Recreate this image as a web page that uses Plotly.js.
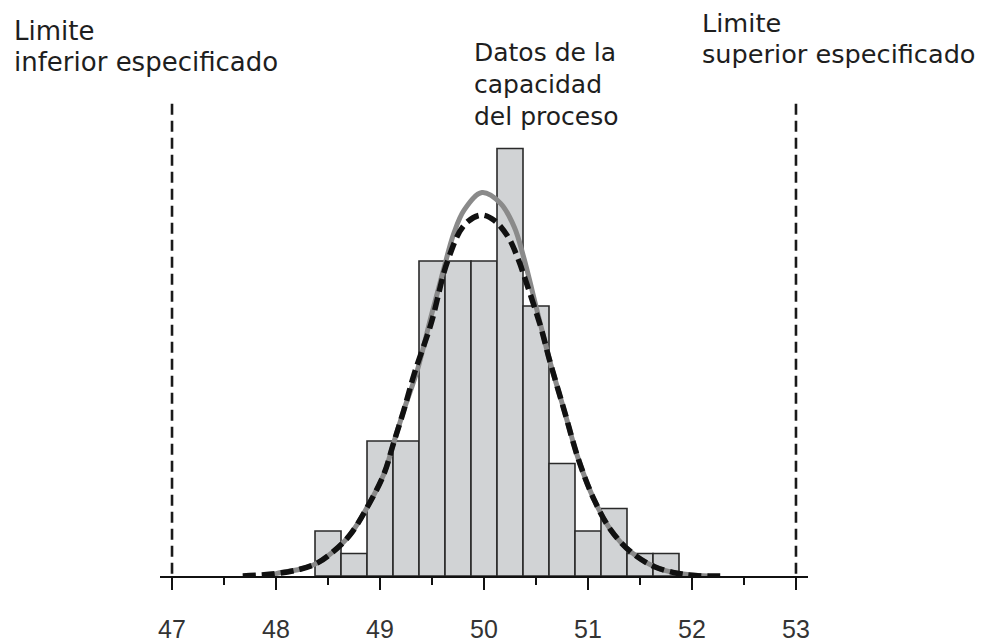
<!DOCTYPE html>
<html>
<head>
<meta charset="utf-8">
<script src="https://cdn.plot.ly/plotly-3.0.1.min.js"></script>
<style>
html,body{margin:0;padding:0;background:#fff;}
#chart{width:986px;height:644px;}
</style>
</head>
<body>
<div id="chart"></div>
<script>
// Histogram bins (centres, width 0.25) and counts
var binCenters = [48.5, 48.75, 49.0, 49.25, 49.5, 49.75, 50.0, 50.25, 50.5, 50.75, 51.0, 51.25, 51.5, 51.75];
var binCounts  = [2, 1, 6, 6, 14, 14, 14, 19, 12, 5, 2, 3, 1, 1];

// Solid gray fitted curve
var grayX = [47.94, 48.01, 48.23, 48.39, 48.55, 48.71, 48.88, 49.04, 49.13, 49.23, 49.36, 49.49, 49.61, 49.71, 49.81, 49.98, 50.16, 50.29, 50.38, 50.51, 50.63, 50.77, 50.91, 51.06, 51.22, 51.41, 51.64, 51.86, 52.16];
var grayY = [0, 0.12, 0.30, 0.56, 1.08, 1.82, 3.08, 4.56, 5.9, 7.38, 9.16, 11.52, 13.6, 15.23, 16.27, 17.04, 16.56, 15.52, 14.19, 11.8, 9.6, 7.38, 5.16, 3.38, 2.04, 1.08, 0.41, 0.12, 0];

// Dashed black curve
var blackX = [47.68, 47.99, 48.23, 48.39, 48.55, 48.71, 48.88, 49.04, 49.13, 49.23, 49.33, 49.49, 49.65, 49.81, 49.97, 50.10, 50.23, 50.32, 50.42, 50.55, 50.63, 50.77, 50.91, 51.06, 51.22, 51.41, 51.64, 51.86, 52.02, 52.33];
var blackY = [0, 0.1, 0.3, 0.56, 1.08, 1.82, 3.08, 4.56, 5.9, 7.38, 9.0, 11.2, 14.0, 15.6, 16.04, 15.8, 15.08, 14.19, 12.86, 11.0, 9.6, 7.38, 5.16, 3.38, 2.04, 1.08, 0.41, 0.12, 0.02, 0];

// Specification limits
var specLimits = [47, 53];

// Axis ticks
var tickValues = [47, 48, 49, 50, 51, 52, 53];
var tickLabels = ["47", "48", "49", "50", "51", "52", "53"];

// Text labels
var leftLabel = ["Limite", "inferior especificado"];
var midLabel = ["Datos de la", "capacidad", "del proceso"];
var rightLabel = ["Limite", "superior especificado"];

var W = 986, H = 644;
var mL = 160, mR = 178, mT = 90, mB = 68;
var pw = W - mL - mR, ph = H - mT - mB;
function px2paperX(px){ return (px - mL) / pw; }
function px2paperY(py){ return (H - mB - py) / ph; }

var annotations = [];
function addLines(lines, xpx, centers, size){
  for (var i = 0; i < lines.length; i++) {
    annotations.push({
      text: lines[i], xref: "paper", yref: "paper",
      x: px2paperX(xpx), y: px2paperY(centers[i]),
      xanchor: "left", yanchor: "middle", showarrow: false,
      borderpad: 0, align: "left",
      font: {family: "DejaVu Sans, Verdana, sans-serif", size: size, color: "#1e1e1e"}
    });
  }
}
addLines(leftLabel, 13, [31.5, 62.5], 26);
addLines(midLabel, 473, [53, 84.6, 116.3], 25);
addLines(rightLabel, 701, [22.5, 54.2], 25.6);

var traces = [
  {
    type: "bar", x: binCenters, y: binCounts, width: 0.25,
    marker: {color: "#d1d3d5", line: {color: "#2a2a2a", width: 1.6}},
    hoverinfo: "skip", showlegend: false
  },
  {
    type: "scatter", mode: "lines", x: grayX, y: grayY,
    line: {color: "#8a8a8a", width: 5, shape: "spline", smoothing: 1},
    hoverinfo: "skip", showlegend: false
  },
  {
    type: "scatter", mode: "lines", x: blackX, y: blackY,
    line: {color: "#111111", width: 5.5, shape: "spline", smoothing: 1, dash: "13px,6px"},
    hoverinfo: "skip", showlegend: false
  }
];

var shapes = specLimits.map(function(v){
  return {type: "line", xref: "x", yref: "y", x0: v, x1: v, y0: 0.1, y1: (576 - 98) / 22.5,
          line: {color: "#1a1a1a", width: 2.6, dash: "11px,6px"}};
});

var layout = {
  width: W, height: H,
  margin: {l: mL, r: mR, t: mT, b: mB, pad: 0},
  paper_bgcolor: "#ffffff", plot_bgcolor: "#ffffff",
  bargap: 0,
  showlegend: false,
  xaxis: {
    range: [47 - 12 / 103.83, 53 + 12 / 103.83],
    tickmode: "array", tickvals: tickValues, ticktext: tickLabels,
    ticks: "outside", ticklen: 12, tickwidth: 2.6, tickcolor: "#111",
    showline: true, linecolor: "#111", linewidth: 2.2,
    showgrid: false, zeroline: false,
    ticklabelstandoff: 18,
    tickfont: {family: "Liberation Sans Narrow, Arial Narrow, Liberation Sans, sans-serif", size: 25, color: "#333"},
    minor: {tick0: 47, dtick: 0.5, ticks: "outside", ticklen: 7, tickwidth: 2.6, tickcolor: "#111", showgrid: false},
    fixedrange: true
  },
  yaxis: {
    range: [0, ph / 22.5],
    showgrid: false, zeroline: false, showline: false,
    showticklabels: false, ticks: "", fixedrange: true
  },
  shapes: shapes,
  annotations: annotations
};

Plotly.newPlot("chart", traces, layout, {staticPlot: true, displayModeBar: false});
</script>
</body>
</html>
